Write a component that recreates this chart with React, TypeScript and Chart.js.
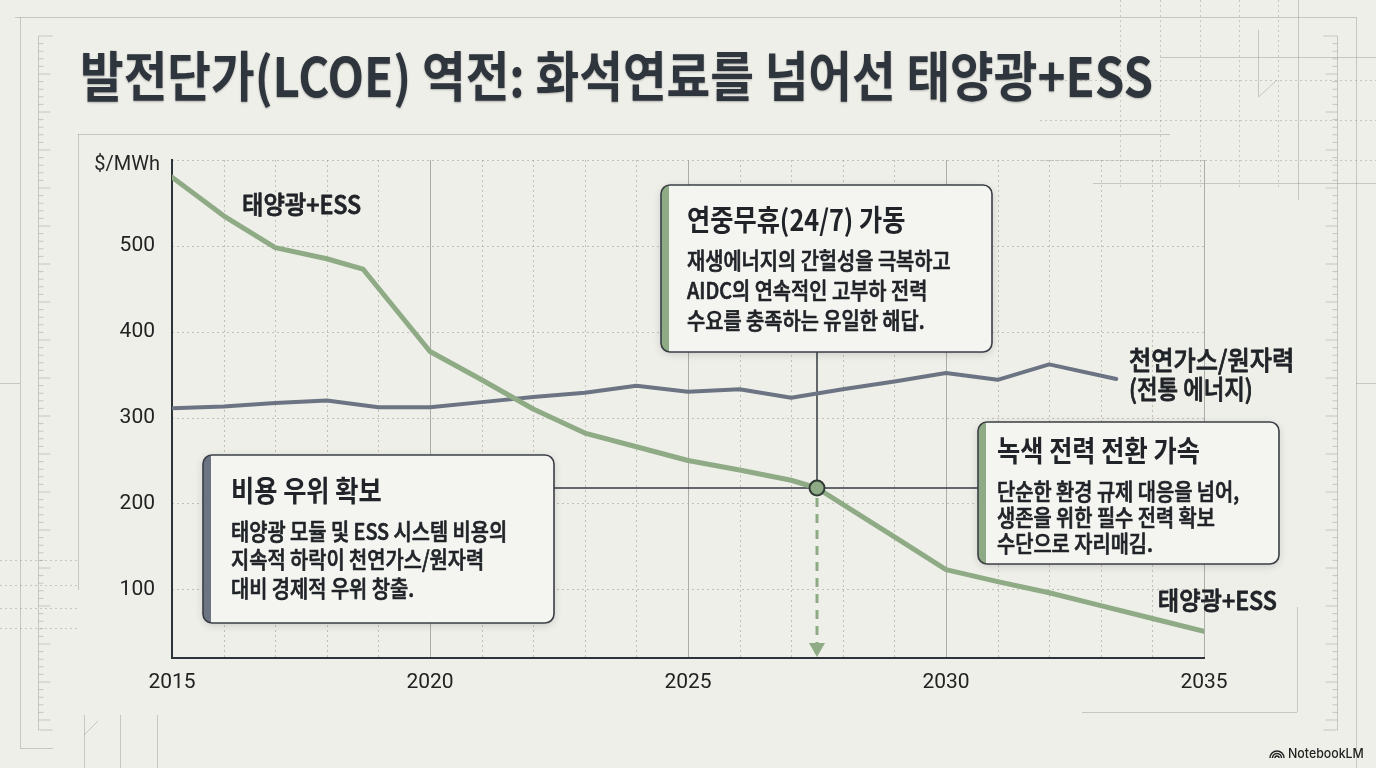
import React, { useEffect, useRef } from 'react';
import { Chart, registerables } from 'chart.js';

Chart.register(...registerables);

// ---------------- data ----------------
const TITLE = '발전단가(LCOE) 역전: 화석연료를 넘어선 태양광+ESS';
const Y_UNIT = '$/MWh';

const solarYears = [2015, 2016, 2017, 2018, 2018.7, 2020, 2021, 2022, 2023, 2024, 2025, 2026, 2027, 2027.5, 2028, 2029, 2030, 2031, 2032, 2033, 2034, 2035];
const solarLcoe = [580, 535, 498, 485, 473, 377, 344, 310, 282, 266, 250, 239, 227, 218, 199, 161, 123, 109, 96, 81, 66, 51];

const gasYears = [2015, 2016, 2017, 2018, 2019, 2020, 2021, 2022, 2023, 2024, 2025, 2026, 2027, 2028, 2029, 2030, 2031, 2032, 2033.3];
const gasLcoe = [311, 313, 317, 320, 312, 312, 318, 324, 329, 337, 330, 333, 323, 333, 342, 352, 344, 362, 345];

const crossoverYear = [2027.5];
const crossoverLcoe = [218];

const xTickYears = [2015, 2020, 2025, 2030, 2035];
const yTickValues = [100, 200, 300, 400, 500, 600];
const gridYears = [2016, 2017, 2018, 2019, 2020, 2021, 2022, 2023, 2024, 2025, 2026, 2027, 2028, 2029, 2030, 2031, 2032, 2033, 2034, 2035];

const solarLabel = '태양광+ESS';
const gasLabelLines = ['천연가스/원자력', '(전통 에너지)'];

const costBoxTitle = '비용 우위 확보';
const costBoxLines = ['태양광 모듈 및 ESS 시스템 비용의', '지속적 하락이 천연가스/원자력', '대비 경제적 우위 창출.'];
const allDayBoxTitle = '연중무휴(24/7) 가동';
const allDayBoxLines = ['재생에너지의 간헐성을 극복하고', 'AIDC의 연속적인 고부하 전력', '수요를 충족하는 유일한 해답.'];
const greenBoxTitle = '녹색 전력 전환 가속';
const greenBoxLines = ['단순한 환경 규제 대응을 넘어,', '생존을 위한 필수 전력 확보', '수단으로 자리매김.'];

const WATERMARK = 'NotebookLM';

// ---------------- styles ----------------
const BG = '#efefea';
const GREEN = '#8eab85';
const SLATE = '#6c7483';
const INK = '#202428';
const AXIS = '#2e333a';
const FAINT = 'rgba(150,150,140,0.45)';
const KR = '"Noto Sans CJK KR", "Noto Sans", sans-serif';

type Box = { x: number; y: number; w: number; h: number; accent: string; title: string; lines: string[]; tx: number; titleY: number; lineYs: number[] };

const BOXES: Box[] = [
  { x: 203, y: 455, w: 351, h: 168, accent: SLATE, title: costBoxTitle, lines: costBoxLines, tx: 231, titleY: 502, lineYs: [540, 568, 597] },
  { x: 661, y: 185, w: 331, h: 167, accent: GREEN, title: allDayBoxTitle, lines: allDayBoxLines, tx: 687, titleY: 231, lineYs: [269, 299, 329] },
  { x: 978, y: 422, w: 301, h: 142, accent: GREEN, title: greenBoxTitle, lines: greenBoxLines, tx: 997, titleY: 462, lineYs: [500, 526, 552] },
];

function roundRectPath(ctx: CanvasRenderingContext2D, x: number, y: number, w: number, h: number, r: number) {
  ctx.beginPath();
  ctx.moveTo(x + r, y);
  ctx.arcTo(x + w, y, x + w, y + h, r);
  ctx.arcTo(x + w, y + h, x, y + h, r);
  ctx.arcTo(x, y + h, x, y, r);
  ctx.arcTo(x, y, x + w, y, r);
  ctx.closePath();
}

function drawText(ctx: CanvasRenderingContext2D, text: string, x: number, y: number, font: string, color: string, sx = 1, align: 'left' | 'right' | 'center' = 'left', stroke = 0) {
  ctx.save();
  ctx.font = font;
  ctx.fillStyle = color;
  ctx.textBaseline = 'alphabetic';
  ctx.textAlign = 'left';
  const w = ctx.measureText(text).width * sx;
  let left = x;
  if (align === 'right') left = x - w;
  else if (align === 'center') left = x - w / 2;
  ctx.translate(left, y);
  ctx.scale(sx, 1);
  ctx.fillText(text, 0, 0);
  if (stroke > 0) {
    ctx.strokeStyle = color;
    ctx.lineWidth = stroke;
    ctx.lineJoin = 'round';
    ctx.strokeText(text, 0, 0);
  }
  ctx.restore();
}

function line(ctx: CanvasRenderingContext2D, x1: number, y1: number, x2: number, y2: number) {
  ctx.beginPath();
  ctx.moveTo(x1, y1);
  ctx.lineTo(x2, y2);
  ctx.stroke();
}

function ruler(ctx: CanvasRenderingContext2D, x: number, y0: number, y1: number, dir: number) {
  line(ctx, x, y0, x, y1);
  line(ctx, x, y0, x + dir * 14, y0);
  line(ctx, x, y1, x + dir * 14, y1);
  let i = 0;
  for (let y = y0 + 7.6; y < y1 - 3; y += 7.6) {
    i++;
    const len = i % 5 === 0 ? 12 : 5;
    line(ctx, x, y, x + dir * len, y);
  }
}

function drawDecor(ctx: CanvasRenderingContext2D) {
  ctx.save();
  ctx.strokeStyle = FAINT;
  ctx.lineWidth = 1;
  line(ctx, 15, 17.5, 1356, 17.5);
  line(ctx, 1356.5, 17, 1356.5, 768);
  line(ctx, 20.5, 17, 20.5, 748);
  line(ctx, 20, 748.5, 53, 748.5);
  line(ctx, 78, 134.5, 1170, 134.5);
  line(ctx, 78.5, 134, 78.5, 590);
  ruler(ctx, 38.5, 36, 730, 1);
  ruler(ctx, 1337.5, 36, 730, -1);
  line(ctx, 1297.5, 607, 1297.5, 712);
  line(ctx, 1082, 712.5, 1297, 712.5);
  line(ctx, 0, 383.5, 20, 383.5);
  line(ctx, 1356, 383.5, 1376, 383.5);
  line(ctx, 1298.5, 0, 1298.5, 200);
  line(ctx, 1160, 57.5, 1376, 57.5);
  line(ctx, 1093, 183.5, 1376, 183.5);
  line(ctx, 1258.5, 30, 1258.5, 97);
  line(ctx, 1258.5, 97, 1277, 80);
  ctx.setLineDash([2, 3]);
  for (const vx of [1120, 1160, 1200, 1239, 1278]) line(ctx, vx + 0.5, 0, vx + 0.5, 190);
  for (const hy of [80, 120, 160]) line(ctx, 1040, hy + 0.5, 1376, hy + 0.5);
  for (const hy of [560, 585, 608, 628]) line(ctx, 0, hy + 0.5, 78, hy + 0.5);
  ctx.setLineDash([]);
  line(ctx, 84.5, 715, 84.5, 768);
  line(ctx, 120.5, 715, 120.5, 768);
  line(ctx, 157.5, 715, 157.5, 768);
  line(ctx, 84, 735, 98, 721);
  ctx.restore();
}

function drawTitle(ctx: CanvasRenderingContext2D) {
  ctx.save();
  const font = `bold 54px ${KR}`;
  ctx.font = font;
  const w = ctx.measureText(TITLE).width;
  const sx = 1073 / w;
  ctx.shadowColor = 'rgba(0,0,0,0.28)';
  ctx.shadowBlur = 2;
  ctx.shadowOffsetY = 1;
  drawText(ctx, TITLE, 80, 97, font, '#2f353c', sx);
  ctx.restore();
}

function drawBox(ctx: CanvasRenderingContext2D, b: Box) {
  ctx.save();
  ctx.shadowColor = 'rgba(0,0,0,0.16)';
  ctx.shadowBlur = 8;
  ctx.shadowOffsetY = 2;
  roundRectPath(ctx, b.x, b.y, b.w, b.h, 9);
  ctx.fillStyle = '#f4f4f0';
  ctx.fill();
  ctx.restore();
  ctx.save();
  roundRectPath(ctx, b.x, b.y, b.w, b.h, 9);
  ctx.clip();
  ctx.fillStyle = b.accent;
  ctx.fillRect(b.x, b.y, 8, b.h);
  ctx.restore();
  ctx.save();
  roundRectPath(ctx, b.x, b.y, b.w, b.h, 9);
  ctx.strokeStyle = '#3a3f45';
  ctx.lineWidth = 1.6;
  ctx.stroke();
  ctx.restore();
  drawText(ctx, b.title, b.tx, b.titleY, `bold 29px ${KR}`, INK, 0.87);
  b.lines.forEach((t, i) => drawText(ctx, t, b.tx, b.lineYs[i], `500 23px ${KR}`, INK, 0.86, 'left', 0.7));
}

const artPlugin = {
  id: 'art',
  beforeDraw(chart: any) {
    const ctx: CanvasRenderingContext2D = chart.ctx;
    const { left, right, top, bottom } = chart.chartArea;
    const xs = chart.scales.x;
    const ys = chart.scales.y;
    ctx.save();
    ctx.fillStyle = BG;
    ctx.fillRect(0, 0, chart.width, chart.height);
    drawDecor(ctx);
    drawTitle(ctx);
    ctx.lineWidth = 1;
    for (const yr of gridYears) {
      const px = Math.round(xs.getPixelForValue(yr)) + 0.5;
      if (yr % 5 === 0) {
        ctx.setLineDash([]);
        ctx.strokeStyle = 'rgba(150,150,145,0.75)';
      } else {
        ctx.setLineDash([2, 3]);
        ctx.strokeStyle = 'rgba(160,160,152,0.6)';
      }
      line(ctx, px, top, px, bottom);
    }
    ctx.setLineDash([2, 3]);
    ctx.strokeStyle = 'rgba(160,160,152,0.6)';
    for (const v of yTickValues) {
      const py = Math.round(ys.getPixelForValue(v)) + 0.5;
      line(ctx, left, py, right, py);
    }
    ctx.restore();
  },
  beforeDatasetsDraw(chart: any) {
    const ctx: CanvasRenderingContext2D = chart.ctx;
    const xs = chart.scales.x;
    const ys = chart.scales.y;
    const { bottom } = chart.chartArea;
    const mx = xs.getPixelForValue(crossoverYear[0]);
    const my = ys.getPixelForValue(crossoverLcoe[0]);
    ctx.save();
    ctx.strokeStyle = '#353a40';
    ctx.lineWidth = 1.5;
    const [b1, b2, b3] = BOXES;
    line(ctx, b1.x + b1.w, my, b3.x, my);
    line(ctx, mx, b2.y + b2.h, mx, my);
    ctx.strokeStyle = GREEN;
    ctx.lineWidth = 3;
    ctx.setLineDash([9, 7]);
    line(ctx, mx, my + 10, mx, bottom - 15);
    ctx.setLineDash([]);
    ctx.fillStyle = GREEN;
    ctx.beginPath();
    ctx.moveTo(mx - 8, bottom - 15);
    ctx.lineTo(mx + 8, bottom - 15);
    ctx.lineTo(mx, bottom - 1);
    ctx.closePath();
    ctx.fill();
    ctx.restore();
  },
  afterDraw(chart: any) {
    const ctx: CanvasRenderingContext2D = chart.ctx;
    const ys = chart.scales.y;
    BOXES.forEach((b) => drawBox(ctx, b));
    drawText(ctx, solarLabel, 242, 214, `500 25px ${KR}`, INK, 0.93, 'left', 0.8);
    drawText(ctx, solarLabel, 1277, 610, `500 25px ${KR}`, INK, 0.93, 'right', 0.8);
    drawText(ctx, gasLabelLines[0], 1129, 370, `500 26px ${KR}`, INK, 0.93, 'left', 0.8);
    drawText(ctx, gasLabelLines[1], 1129, 399, `500 26px ${KR}`, INK, 0.86, 'left', 0.8);
    const uy = ys.getPixelForValue(600);
    drawText(ctx, Y_UNIT, 160, uy + 10, '20px Roboto, "Noto Sans", sans-serif', '#262626', 1, 'right');
    ctx.save();
    ctx.strokeStyle = '#222';
    ctx.lineWidth = 1.5;
    for (const r of [7, 4.5, 2]) {
      ctx.beginPath();
      ctx.arc(1277, 758, r, Math.PI, 0);
      ctx.stroke();
    }
    ctx.restore();
    drawText(ctx, WATERMARK, 1288, 758, '500 13px Inter, Roboto, sans-serif', '#222', 0.95);
  },
};

export default function App() {
  const ref = useRef<HTMLCanvasElement | null>(null);
  useEffect(() => {
    document.body.style.margin = '0';
    const canvas = ref.current;
    if (!canvas) return;
    const tickFont = { family: 'Roboto, "Noto Sans", sans-serif', size: 21 };
    const chart = new Chart(canvas, {
      type: 'line',
      data: {
        datasets: [
          {
            label: '교차점',
            data: crossoverYear.map((x, i) => ({ x, y: crossoverLcoe[i] })),
            showLine: false,
            pointRadius: 7.5,
            pointBackgroundColor: GREEN,
            pointBorderColor: '#2f3b34',
            pointBorderWidth: 2,
            order: 0,
          },
          {
            label: '태양광+ESS',
            data: solarYears.map((x, i) => ({ x, y: solarLcoe[i] })),
            borderColor: GREEN,
            borderWidth: 5,
            pointRadius: 0,
            tension: 0,
            borderJoinStyle: 'round',
            borderCapStyle: 'round',
            order: 1,
          },
          {
            label: '천연가스/원자력',
            data: gasYears.map((x, i) => ({ x, y: gasLcoe[i] })),
            borderColor: SLATE,
            borderWidth: 4,
            pointRadius: 0,
            tension: 0,
            borderJoinStyle: 'round',
            borderCapStyle: 'round',
            order: 2,
          },
        ],
      } as any,
      options: {
        animation: false,
        responsive: false,
        events: [],
        layout: { padding: { left: 0, top: 160, right: 172, bottom: 0 } },
        plugins: { legend: { display: false }, tooltip: { enabled: false } },
        scales: {
          x: {
            type: 'linear',
            min: 2015,
            max: 2035,
            afterFit: (s: any) => { s.height = 110; },
            afterBuildTicks: (s: any) => { s.ticks = xTickYears.map((v) => ({ value: v })); },
            grid: { display: false, drawTicks: false },
            border: { display: true, color: AXIS, width: 2 },
            ticks: { font: tickFont, color: '#222', padding: 12, maxRotation: 0, callback: (v: any) => String(v) },
          },
          y: {
            type: 'linear',
            min: 20,
            max: 600,
            afterFit: (s: any) => { s.width = 172; },
            afterBuildTicks: (s: any) => { s.ticks = yTickValues.map((v) => ({ value: v })); },
            grid: { display: false, drawTicks: false },
            border: { display: true, color: AXIS, width: 2 },
            ticks: { font: tickFont, color: '#222', padding: 17, callback: (v: any) => (v === 600 ? '' : String(v)) },
          },
        },
      } as any,
      plugins: [artPlugin],
    });
    return () => chart.destroy();
  }, []);
  return (
    <div style={{ position: 'fixed', left: 0, top: 0, width: 1376, height: 768, background: BG }}>
      <canvas ref={ref} width={1376} height={768} style={{ width: 1376, height: 768, display: 'block' }} />
    </div>
  );
}
